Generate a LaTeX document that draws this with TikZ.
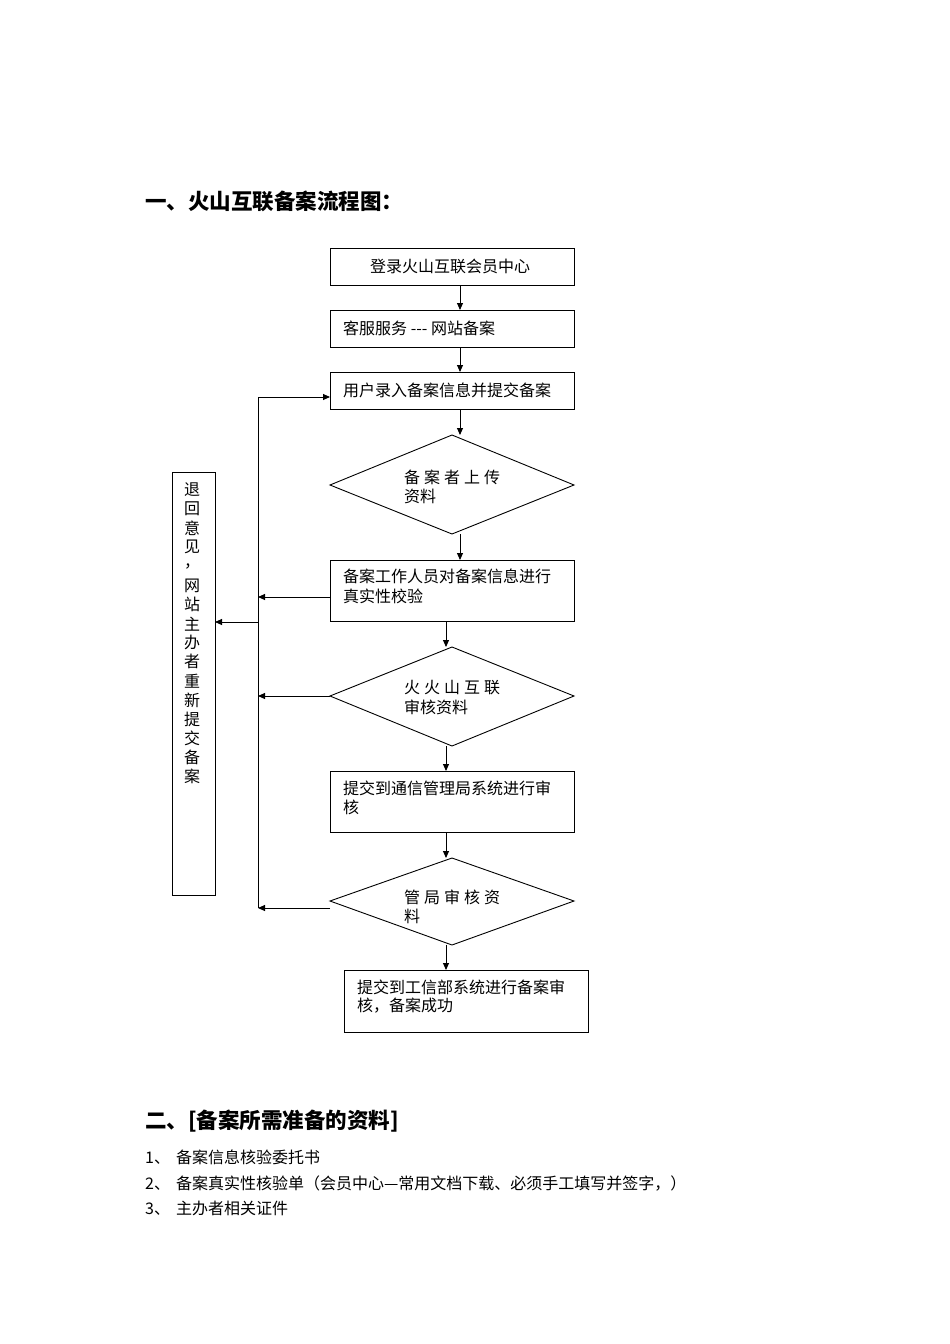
\documentclass[tikz,border=0pt]{standalone}
\usepackage{fontspec}
\setmainfont{Noto Sans CJK SC}
\usetikzlibrary{arrows.meta}
\begin{document}
\begin{tikzpicture}[x=1pt,y=-1pt,
 box/.style={draw,line width=0.9pt},
 arr/.style={draw,line width=0.9pt,-{Triangle[length=7pt,width=6pt]}},
 ln/.style={draw,line width=0.9pt},
 t/.style={anchor=west,inner sep=0pt,font=\fontsize{16pt}{18pt}\selectfont},
 h/.style={anchor=west,inner sep=0pt,font=\bfseries\fontsize{21.5pt}{24pt}\selectfont},
 l/.style={anchor=west,inner sep=0pt,font=\fontsize{16pt}{18pt}\selectfont}]
\useasboundingbox (0,0) rectangle (950,1344);
\def\g{\hspace{4pt}}
\node[h] (t1) at (145,201) {一、火山互联备案流程图：};
% boxes
\draw[box] (330,248) rectangle (574,285);
\node[t] (b1) at (370,266) {登录火山互联会员中心};
\draw[box] (330,310) rectangle (574,347);
\node[t] (b2) at (343,328) {客服服务 {-}{-}{-} 网站备案};
\draw[box] (330,372) rectangle (574,409);
\node[t] (b3) at (343,390) {用户录入备案信息并提交备案};
\draw[box] (330,485) -- (452,435) -- (574,485) -- (452,534) -- cycle;
\node[t] (d1a) at (404,477) {备\g 案\g 者\g 上\g 传};
\node[t] (d1b) at (404,496) {资料};
\draw[box] (330,560) rectangle (574,621);
\node[t] (b4a) at (343,576) {备案工作人员对备案信息进行};
\node[t] (b4b) at (343,596) {真实性校验};
\draw[box] (330,696) -- (452,647) -- (574,696) -- (452,746) -- cycle;
\node[t] (d2a) at (404,688) {火\g 火\g 山\g 互\g 联};
\node[t] (d2b) at (404,707) {审核资料};
\draw[box] (330,771) rectangle (574,832);
\node[t] (b5a) at (343,788) {提交到通信管理局系统进行审};
\node[t] (b5b) at (343,807) {核};
\draw[box] (330,901) -- (452,858) -- (574,901) -- (452,945) -- cycle;
\node[t] (d3a) at (404,897) {管\g 局\g 审\g 核\g 资};
\node[t] (d3b) at (404,916) {料};
\draw[box] (344,970) rectangle (588,1032);
\node[t] (b6a) at (357,987) {提交到工信部系统进行备案审};
\node[t] (b6b) at (357,1006) {核，备案成功};
% left box
\draw[box] (172,472) rectangle (215,895);
\foreach \c [count=\i from 0] in {退,回,意,见,{，},网,站,主,办,者,重,新,提,交,备,案}
  \node[inner sep=0pt,font=\fontsize{16pt}{18pt}\selectfont] (v\i) at (192,{490+\i*19.1}) {\c};
% arrows down
\draw[arr] (460,285) -- (460,310);
\draw[arr] (460,347) -- (460,372);
\draw[arr] (460,409) -- (460,435);
\draw[arr] (460,534) -- (460,560);
\draw[arr] (446,621) -- (446,647);
\draw[arr] (446,746) -- (446,771);
\draw[arr] (446,832) -- (446,858);
\draw[arr] (446,945) -- (446,970);
% feedback
\draw[ln] (258,908) -- (258,397);
\draw[arr] (258,397) -- (330,397);
\draw[arr] (330,597) -- (258,597);
\draw[arr] (330,696) -- (258,696);
\draw[arr] (330,908) -- (258,908);
\draw[arr] (258,622) -- (215,622);
% section 2
\node[h] (t2) at (145,1121) {二、[备案所需准备的资料]};
\node[l] (n1) at (145,1157) {1、\hspace{6pt}备案信息核验委托书};
\node[l] (n2) at (145,1183) {2、\hspace{6pt}备案真实性核验单（会员中心—常用文档下载、必须手工填写并签字，）};
\node[l] (n3) at (145,1208) {3、\hspace{6pt}主办者相关证件};
\end{tikzpicture}
\end{document}
